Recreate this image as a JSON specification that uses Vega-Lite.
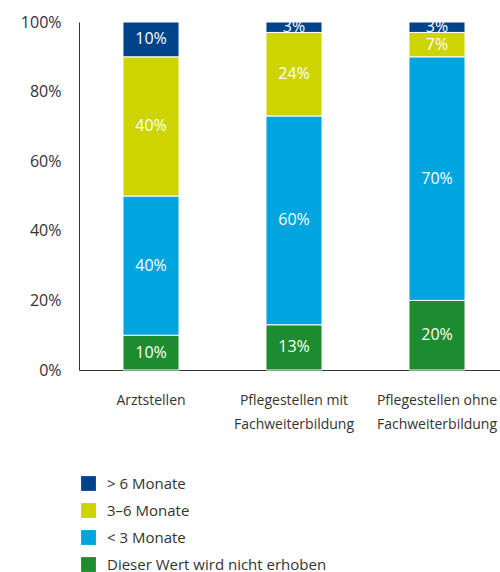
{
  "$schema": "https://vega.github.io/schema/vega-lite/v6.json",
  "width": 421,
  "height": 348,
  "padding": {"left": 79, "top": 22, "right": 0, "bottom": 202},
  "autosize": "none",
  "background": "white",
  "config": {
    "view": {"stroke": null},
    "font": "Open Sans"
  },
  "data": {
    "values": [
      {"cat": "Arztstellen", "grp": "Dieser Wert wird nicht erhoben", "ord": 1, "v": 10},
      {"cat": "Arztstellen", "grp": "< 3 Monate", "ord": 2, "v": 40},
      {"cat": "Arztstellen", "grp": "3–6 Monate", "ord": 3, "v": 40},
      {"cat": "Arztstellen", "grp": "> 6 Monate", "ord": 4, "v": 10},
      {"cat": "Pflegestellen mit Fachweiterbildung", "grp": "Dieser Wert wird nicht erhoben", "ord": 1, "v": 13},
      {"cat": "Pflegestellen mit Fachweiterbildung", "grp": "< 3 Monate", "ord": 2, "v": 60},
      {"cat": "Pflegestellen mit Fachweiterbildung", "grp": "3–6 Monate", "ord": 3, "v": 24},
      {"cat": "Pflegestellen mit Fachweiterbildung", "grp": "> 6 Monate", "ord": 4, "v": 3},
      {"cat": "Pflegestellen ohne Fachweiterbildung", "grp": "Dieser Wert wird nicht erhoben", "ord": 1, "v": 20},
      {"cat": "Pflegestellen ohne Fachweiterbildung", "grp": "< 3 Monate", "ord": 2, "v": 70},
      {"cat": "Pflegestellen ohne Fachweiterbildung", "grp": "3–6 Monate", "ord": 3, "v": 7},
      {"cat": "Pflegestellen ohne Fachweiterbildung", "grp": "> 6 Monate", "ord": 4, "v": 3}
    ]
  },
  "transform": [
    {"stack": "v", "groupby": ["cat"], "sort": [{"field": "ord", "order": "ascending"}], "as": ["v0", "v1"]},
    {"calculate": "(datum.v0 + datum.v1) / 2", "as": "vmid"},
    {"calculate": "datum.v + '%'", "as": "lbl"}
  ],
  "encoding": {
    "x": {
      "field": "cat",
      "type": "nominal",
      "sort": null,
      "scale": {"paddingInner": 0.608, "paddingOuter": 0.276, "align": 0.557},
      "axis": {
        "title": null,
        "labelAngle": 0,
        "ticks": false,
        "domainColor": "#333333",
        "labelColor": "#333333",
        "labelFontSize": 14,
        "labelPadding": 23,
        "labelLineHeight": 24,
        "labelExpr": "datum.value == 'Arztstellen' ? 'Arztstellen' : datum.value == 'Pflegestellen mit Fachweiterbildung' ? ['Pflegestellen mit', 'Fachweiterbildung'] : ['Pflegestellen ohne', 'Fachweiterbildung']"
      }
    }
  },
  "layer": [
    {
      "mark": {"type": "bar", "stroke": "white", "strokeWidth": 1},
      "encoding": {
        "y": {
          "field": "v0",
          "type": "quantitative",
          "scale": {"domain": [0, 100]},
          "axis": {
            "title": null,
            "grid": false,
            "ticks": false,
            "values": [0, 20, 40, 60, 80, 100],
            "labelExpr": "datum.value + '%'",
            "labelFontSize": 16,
            "labelColor": "#333333",
            "labelPadding": 18,
            "domainColor": "#333333"
          }
        },
        "y2": {"field": "v1"},
        "color": {
          "field": "grp",
          "type": "nominal",
          "scale": {
            "domain": ["> 6 Monate", "3–6 Monate", "< 3 Monate", "Dieser Wert wird nicht erhoben"],
            "range": ["#004388", "#cdd400", "#00a5df", "#1d8b2f"]
          },
          "legend": {
            "title": null,
            "orient": "none",
            "legendX": 2,
            "legendY": 454,
            "symbolType": "square",
            "symbolSize": 220,
            "symbolStrokeWidth": 0,
            "labelFontSize": 15,
            "labelColor": "#333333",
            "labelOffset": 11,
            "labelLimit": 400,
            "rowPadding": 11
          }
        }
      }
    },
    {
      "mark": {"type": "text", "color": "white", "fontSize": 16, "baseline": "middle"},
      "encoding": {
        "y": {"field": "vmid", "type": "quantitative"},
        "text": {"field": "lbl", "type": "nominal"}
      }
    }
  ]
}
